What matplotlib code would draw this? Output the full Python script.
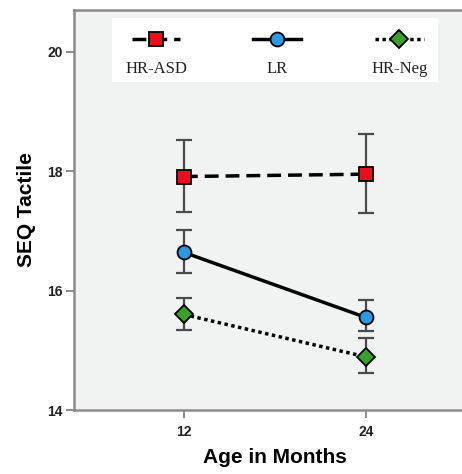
import matplotlib.pyplot as plt
from matplotlib.patches import Rectangle

# group means and error bar limits at 12 and 24 months
ages = [12, 24]
groups = ['HR-ASD', 'LR', 'HR-Neg']
means = {
    'HR-ASD': [17.91, 17.95],
    'LR': [16.64, 15.55],
    'HR-Neg': [15.60, 14.89],
}
err_low = {
    'HR-ASD': [17.32, 17.30],
    'LR': [16.30, 15.32],
    'HR-Neg': [15.34, 14.62],
}
err_high = {
    'HR-ASD': [18.53, 18.62],
    'LR': [17.02, 15.84],
    'HR-Neg': [15.87, 15.21],
}

styles = {
    'HR-ASD': dict(marker='s', mfc='#e8101c', ls=(0, (4, 2)), ms=9.5),
    'LR': dict(marker='o', mfc='#2a9be0', ls='-', ms=10),
    'HR-Neg': dict(marker='D', mfc='#3aa02c', ls=(0, (1, 1)), ms=9.5),
}

fig = plt.figure(figsize=(4.62, 4.74), dpi=100)
fig.patch.set_facecolor('white')
ax = fig.add_axes([0.160, 0.135, 0.870, 0.844])
ax.set_facecolor('#f1f3f3')

for g in groups:
    st = styles[g]
    lo = [m - l for m, l in zip(means[g], err_low[g])]
    hi = [h - m for m, h in zip(means[g], err_high[g])]
    ax.errorbar(ages, means[g], yerr=[lo, hi], fmt='none', ecolor='#4a4a4a',
                elinewidth=1.6, capsize=6, capthick=1.6, zorder=2)
    ax.plot(ages, means[g], color='black', lw=2.5, ls=st['ls'],
            marker=st['marker'], ms=st['ms'], mfc=st['mfc'], mec='black',
            mew=1.3, zorder=3)

ax.set_xlim(4.75, 31.25)
ax.set_ylim(14, 20.7)
ax.set_xticks(ages)
ax.set_yticks([14, 16, 18, 20])
ax.tick_params(axis='both', length=6, width=1.2, color='#777777',
               labelsize=10, pad=2)
ax.tick_params(axis='x', pad=5)
for lab in ax.get_xticklabels() + ax.get_yticklabels():
    lab.set_fontweight('bold')
    lab.set_fontfamily('Liberation Sans')
    lab.set_color('#222222')

for side in ['left', 'bottom', 'top']:
    ax.spines[side].set_color('#8a8a8a')
    ax.spines[side].set_linewidth(1.8)
ax.spines['right'].set_visible(False)

ax.set_xlabel('Age in Months', fontsize=15, fontweight='bold',
              family='Liberation Sans', labelpad=6)
ax.set_ylabel('SEQ Tactile', fontsize=15, fontweight='bold',
              family='Liberation Sans', labelpad=8)

# legend box: marker sample above each group name
box = Rectangle((0.095, 0.82), 0.81, 0.16, transform=ax.transAxes,
                facecolor='white', edgecolor='none', zorder=4)
ax.add_patch(box)
centers = [0.205, 0.505, 0.81]
for g, cx in zip(groups, centers):
    st = styles[g]
    ax.plot([cx - 0.06, cx + 0.06], [0.928, 0.928], transform=ax.transAxes,
            color='black', lw=2.5, ls=st['ls'], zorder=5)
    ax.plot([cx], [0.928], transform=ax.transAxes, marker=st['marker'],
            ms=st['ms'], mfc=st['mfc'], mec='black', mew=1.3, zorder=6)
    ax.text(cx, 0.852, g, transform=ax.transAxes, ha='center', va='center',
            fontsize=12, family='Liberation Serif', color='#222222', zorder=6)

fig.savefig('out.png', dpi=100)
